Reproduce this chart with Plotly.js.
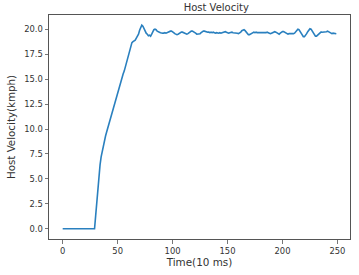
<!DOCTYPE html>
<html>
<head>
<meta charset="utf-8">
<script src="https://cdn.plot.ly/plotly-3.0.1.min.js"></script>
<style>html,body{margin:0;padding:0;background:#fff;}#chart{width:359px;height:275px;}</style>
</head>
<body>
<div id="chart"></div>
<script>
// Time index (10 ms steps), 0..249
const timeSteps = Array.from({length: 250}, (_, i) => i);

// Host velocity (kmph), one value per time step
const hostVelocity = [
  // 0-29
  0,0,0,0,0,0,0,0,0,0, 0,0,0,0,0,0,0,0,0,0, 0,0,0,0,0,0,0,0,0,0,
  // 30-39
  1.3,2.7,4.1,5.5,6.4,7.2,7.8,8.4,8.9,9.3,
  // 40-49
  9.7,10.1,10.5,10.8,11.2,11.6,12.0,12.4,12.8,13.2,
  // 50-59
  13.5,13.9,14.3,14.7,15.1,15.5,15.8,16.2,16.6,17.0,
  // 60-69
  17.4,17.8,18.3,18.65,18.75,18.8,18.9,19.1,19.3,19.5,
  // 70-79
  19.9,20.25,20.4,20.3,20.0,19.8,19.6,19.5,19.35,19.4,
  // 80-89
  19.3,19.5,19.8,19.95,20.0,19.95,19.8,19.7,19.7,19.65,
  // 90-99
  19.6,19.6,19.6,19.65,19.6,19.65,19.75,19.8,19.8,19.8,
  // 100-109
  19.75,19.65,19.55,19.5,19.45,19.5,19.6,19.65,19.7,19.7,
  // 110-119
  19.65,19.6,19.5,19.5,19.55,19.65,19.75,19.8,19.8,19.75,
  // 120-129
  19.7,19.6,19.5,19.5,19.5,19.55,19.65,19.75,19.8,19.8,
  // 130-139
  19.75,19.7,19.7,19.7,19.65,19.7,19.65,19.7,19.65,19.6,
  // 140-149
  19.65,19.6,19.6,19.65,19.6,19.65,19.7,19.75,19.75,19.7,
  // 150-159
  19.65,19.6,19.65,19.7,19.7,19.65,19.65,19.6,19.6,19.6,
  // 160-169
  19.55,19.6,19.7,19.85,19.95,19.95,19.85,19.7,19.55,19.45,
  // 170-179
  19.45,19.5,19.6,19.65,19.7,19.65,19.7,19.65,19.65,19.6,
  // 180-189
  19.65,19.6,19.6,19.6,19.6,19.65,19.7,19.65,19.6,19.55,
  // 190-199
  19.6,19.65,19.7,19.75,19.7,19.6,19.5,19.5,19.6,19.7,
  // 200-209
  19.75,19.75,19.7,19.6,19.55,19.5,19.55,19.55,19.5,19.5,
  // 210-219
  19.55,19.6,19.75,19.9,20.0,19.95,19.8,19.6,19.4,19.25,
  // 220-229
  19.25,19.35,19.55,19.75,19.95,20.05,20.0,19.85,19.65,19.45,
  // 230-239
  19.3,19.3,19.4,19.55,19.65,19.7,19.7,19.7,19.75,19.7,
  // 240-249
  19.75,19.8,19.75,19.65,19.6,19.55,19.6,19.6,19.55,19.55
];

const xTickVals = [0, 50, 100, 150, 200, 250];
const yTickVals = [0, 2.5, 5, 7.5, 10, 12.5, 15, 17.5, 20];
const yTickText = ["0.0", "2.5", "5.0", "7.5", "10.0", "12.5", "15.0", "17.5", "20.0"];

const frame = '#555555';
const font = 'DejaVu Sans, sans-serif';

const data = [{
  x: timeSteps,
  y: hostVelocity,
  type: 'scatter',
  mode: 'lines',
  line: {color: '#2a80bf', width: 1.6},
  hoverinfo: 'skip'
}];

const layout = {
  width: 359,
  height: 275,
  margin: {l: 49, r: 9, t: 15, b: 36, pad: 0},
  paper_bgcolor: '#ffffff',
  plot_bgcolor: '#ffffff',
  showlegend: false,
  font: {family: font, color: '#333333', size: 8.4},
  title: {
    text: 'Host Velocity',
    font: {family: font, size: 10, color: '#333333'},
    x: 199.5 / 359, xref: 'paper', xanchor: 'center',
    y: 1 - 7.5 / 275, yref: 'container', yanchor: 'middle'
  },
  xaxis: {
    range: [-12.45, 261.45],
    tickmode: 'array',
    tickvals: xTickVals,
    ticks: 'outside', ticklen: 3.5, tickwidth: 0.8, tickcolor: frame,
    showgrid: false, zeroline: false,
    showline: true, linecolor: frame, linewidth: 1, mirror: true,
    tickfont: {family: font, size: 8.4, color: '#333333'},
    title: {text: 'Time(10 ms)', font: {family: font, size: 10.4, color: '#333333'}, standoff: 4},
    automargin: false
  },
  yaxis: {
    range: [-1.02, 21.42],
    tickmode: 'array',
    tickvals: yTickVals,
    ticktext: yTickText,
    ticks: 'outside', ticklen: 3.5, tickwidth: 0.8, tickcolor: frame,
    showgrid: false, zeroline: false,
    showline: true, linecolor: frame, linewidth: 1, mirror: true,
    tickfont: {family: font, size: 8.4, color: '#333333'},
    title: {text: 'Host Velocity(kmph)', font: {family: font, size: 10.3, color: '#333333'}, standoff: 6},
    automargin: false
  }
};

Plotly.newPlot('chart', data, layout, {displayModeBar: false, staticPlot: true});
</script>
</body>
</html>
